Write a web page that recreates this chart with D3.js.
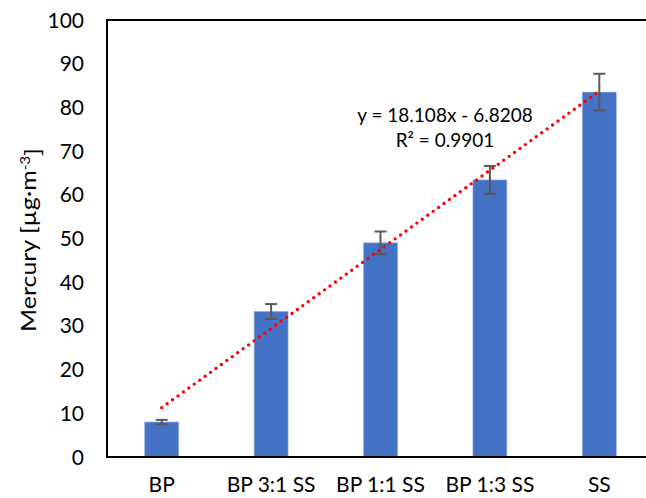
<!DOCTYPE html>
<html>
<head>
<meta charset="utf-8">
<script src="https://d3js.org/d3.v7.min.js"></script>
<style>
  body { margin: 0; background: #fff; }
  text { font-family: Lato, "Open Sans", sans-serif; fill: #000; }
</style>
</head>
<body>
<script>
  // data
  const categories = ["BP", "BP 3:1 SS", "BP 1:1 SS", "BP 1:3 SS", "SS"]
  const mercury = [8.0, 33.3, 49.0, 63.4, 83.5]
  const errors = [0.5, 1.7, 2.6, 3.2, 4.2]
  const yTicks = [0, 10, 20, 30, 40, 50, 60, 70, 80, 90, 100]
  const trend = { slope: 18.108, intercept: -6.8208, r2: 0.9901 }

  const width = 646, height = 498
  const margin = { top: 20, right: -8, bottom: 41, left: 107 }

  const svg = d3.select("body").append("svg")
    .attr("width", width)
    .attr("height", height)

  const x = d3.scaleBand()
    .domain(categories)
    .range([margin.left, width - margin.right])
    .paddingInner(0.69)
    .paddingOuter(0.345)

  const y = d3.scaleLinear()
    .domain([0, 100])
    .range([height - margin.bottom, margin.top])

  // stretch a text node along its own direction so it has the wanted length
  function fitLength(sel, len) {
    const w = sel.node().getBBox().width
    const t = sel.attr("transform") || ""
    sel.attr("transform", `${t} scale(${len / w},1)`)
  }

  // y tick labels
  svg.append("g")
    .selectAll("text")
    .data(yTicks)
    .join("text")
      .attr("x", 84)
      .attr("y", d => y(d))
      .attr("dy", "0.36em")
      .attr("text-anchor", "end")
      .style("font-size", "21px")
      .text(d => d)

  // bars
  svg.append("g")
    .selectAll("rect")
    .data(mercury)
    .join("rect")
      .attr("x", (d, i) => x(categories[i]))
      .attr("y", d => y(d))
      .attr("width", x.bandwidth())
      .attr("height", d => y(0) - y(d))
      .attr("fill", "#4472c4")
      .attr("stroke", "#8faadc")
      .attr("stroke-width", 0.6)

  // error bars
  const eb = svg.append("g")
    .attr("stroke", "#595959")
    .attr("stroke-width", 2)
  mercury.forEach((v, i) => {
    const cx = x(categories[i]) + x.bandwidth() / 2
    const e = errors[i]
    eb.append("line").attr("x1", cx).attr("x2", cx).attr("y1", y(v + e)).attr("y2", y(v - e))
    eb.append("line").attr("x1", cx - 6).attr("x2", cx + 6).attr("y1", y(v + e)).attr("y2", y(v + e))
    eb.append("line").attr("x1", cx - 6).attr("x2", cx + 6).attr("y1", y(v - e)).attr("y2", y(v - e))
  })

  // axes frame
  svg.append("line")
    .attr("x1", margin.left).attr("x2", margin.left)
    .attr("y1", y(100)).attr("y2", y(0))
    .attr("stroke", "#000").attr("stroke-width", 2)
  svg.append("line")
    .attr("x1", margin.left - 1).attr("x2", width)
    .attr("y1", y(100)).attr("y2", y(100))
    .attr("stroke", "#000").attr("stroke-width", 2)
  svg.append("line")
    .attr("x1", margin.left - 1).attr("x2", width)
    .attr("y1", y(0)).attr("y2", y(0))
    .attr("stroke", "#000").attr("stroke-width", 2)

  // linear trend line (dotted)
  const tx = d3.scaleLinear()
    .domain([1, categories.length])
    .range([x(categories[0]) + x.bandwidth() / 2, x(categories[categories.length - 1]) + x.bandwidth() / 2])
  svg.append("line")
    .attr("x1", tx(1)).attr("y1", y(trend.slope * 1 + trend.intercept))
    .attr("x2", tx(5)).attr("y2", y(trend.slope * 5 + trend.intercept))
    .attr("stroke", "#ff0000")
    .attr("stroke-width", 3.4)
    .attr("stroke-linecap", "round")
    .attr("stroke-dasharray", "0 6.7")

  // trend equation
  svg.append("text")
    .attr("x", 445).attr("y", 122)
    .attr("text-anchor", "middle")
    .style("font-size", "19px")
    .text(`y = ${trend.slope}x - ${Math.abs(trend.intercept)}`)
  svg.append("text")
    .attr("x", 445).attr("y", 147)
    .attr("text-anchor", "middle")
    .style("font-size", "19px")
    .text(`R² = ${trend.r2}`)

  // x labels
  svg.append("g")
    .selectAll("text")
    .data(categories)
    .join("text")
      .attr("x", d => x(d) + x.bandwidth() / 2)
      .attr("y", 492)
      .attr("text-anchor", "middle")
      .style("font-size", "21px")
      .text(d => d)

  // y axis title
  const title = svg.append("text")
    .attr("transform", `translate(36,240) rotate(-90)`)
    .attr("text-anchor", "middle")
    .style("font-size", "21px")
    .text("Mercury [µg·m")
    .call(t => t.append("tspan").attr("dy", "-0.45em").style("font-size", "13px").text("-3"))
    .call(t => t.append("tspan").attr("dy", "0.45em").text("]"))
  fitLength(title, 184)
</script>
</body>
</html>
